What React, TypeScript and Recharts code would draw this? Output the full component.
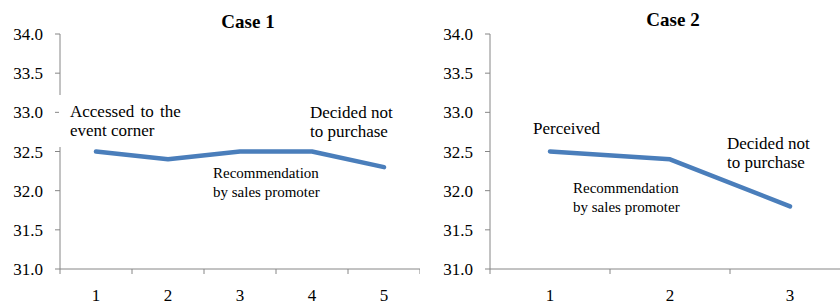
import React from 'react'
import { LineChart, Line, XAxis, YAxis } from 'recharts'

const case1Steps = [1, 2, 3, 4, 5]
const case1Values = [32.5, 32.4, 32.5, 32.5, 32.3]
const case1Bounds = [0.5, 1.5, 2.5, 3.5, 4.5, 5.5]

const case2Steps = [1, 2, 3]
const case2Values = [32.5, 32.4, 31.8]
const case2Bounds = [0.5, 1.5, 2.5, 3.5]

const yTicks = [31, 31.5, 32, 32.5, 33, 33.5, 34]

const FONT = '"Liberation Serif", "Times New Roman", serif'
const AXIS = '#868686'
const BLUE = '#4a7ebb'

const tickStyle = { fontSize: 17, fill: '#000', fontFamily: FONT }

function CaseChart({ steps, values, bounds, width, yAxisWidth }: {
    steps: number[]
    values: number[]
    bounds: number[]
    width: number
    yAxisWidth: number
}) {
    const data = steps.map((s, i) => ({ step: s, value: values[i] }))
    const domain = [bounds[0], bounds[bounds.length - 1]]
    return (
        <LineChart width={width} height={304} data={data} margin={{ top: 34, right: 0, bottom: 0, left: 0 }}>
            <XAxis
                xAxisId="grid"
                dataKey="step"
                type="number"
                domain={domain}
                ticks={bounds}
                tickFormatter={() => ''}
                axisLine={{ stroke: AXIS }}
                tickLine={{ stroke: AXIS }}
                tickSize={5}
                height={1}
                interval={0}
                allowDataOverflow
            />
            <XAxis
                xAxisId="lab"
                dataKey="step"
                type="number"
                domain={domain}
                ticks={steps}
                axisLine={false}
                tickLine={false}
                tickMargin={13}
                tick={tickStyle}
                height={34}
                interval={0}
                allowDataOverflow
            />
            <YAxis
                domain={[31, 34]}
                ticks={yTicks}
                tickFormatter={(v: number) => v.toFixed(1)}
                axisLine={{ stroke: AXIS }}
                tickLine={{ stroke: AXIS }}
                tickSize={5}
                tickMargin={12}
                tick={tickStyle}
                width={yAxisWidth}
                interval={0}
            />
            <Line
                xAxisId="lab"
                type="linear"
                dataKey="value"
                stroke={BLUE}
                strokeWidth={4.5}
                strokeLinecap="round"
                strokeLinejoin="round"
                dot={false}
                isAnimationActive={false}
            />
        </LineChart>
    )
}

function Note({ x, y, size = 17, children }: { x: number; y: number; size?: number; children: React.ReactNode }) {
    return (
        <div style={{
            position: 'absolute', left: x, top: y, fontFamily: FONT, fontSize: size, lineHeight: '19px',
            whiteSpace: 'nowrap', color: '#000',
        }}>
            {children}
        </div>
    )
}

export default function App() {
    return (
        <div style={{ position: 'absolute', left: 0, top: 0, width: 840, height: 304, overflow: 'hidden', background: '#fff' }}>
            <div style={{ position: 'absolute', left: 0, top: 0 }}>
                <CaseChart steps={case1Steps} values={case1Values} bounds={case1Bounds} width={420} yAxisWidth={60} />
            </div>
            <div style={{ position: 'absolute', left: 420, top: 0 }}>
                <CaseChart steps={case2Steps} values={case2Values} bounds={case2Bounds} width={430} yAxisWidth={70} />
            </div>

            <div style={{ position: 'absolute', left: 248, top: 22, transform: 'translate(-50%, -50%)', fontFamily: FONT, fontWeight: 'bold', fontSize: 19 }}>Case 1</div>
            <div style={{ position: 'absolute', left: 673, top: 20, transform: 'translate(-50%, -50%)', fontFamily: FONT, fontWeight: 'bold', fontSize: 19 }}>Case 2</div>

            <div style={{ position: 'absolute', left: 59, top: 95, width: 100, height: 52, background: '#fff' }} />
            <Note x={70} y={102}><span style={{ wordSpacing: 2 }}>Accessed to the</span><br />event corner</Note>
            <Note x={310} y={103}>Decided not<br />to purchase</Note>
            <Note x={213} y={164} size={15}>Recommendation<br />by sales promoter</Note>

            <Note x={533} y={119}>Perceived</Note>
            <Note x={573} y={179} size={15}>Recommendation<br />by sales promoter</Note>
            <Note x={727} y={134}>Decided not<br />to purchase</Note>
        </div>
    )
}
